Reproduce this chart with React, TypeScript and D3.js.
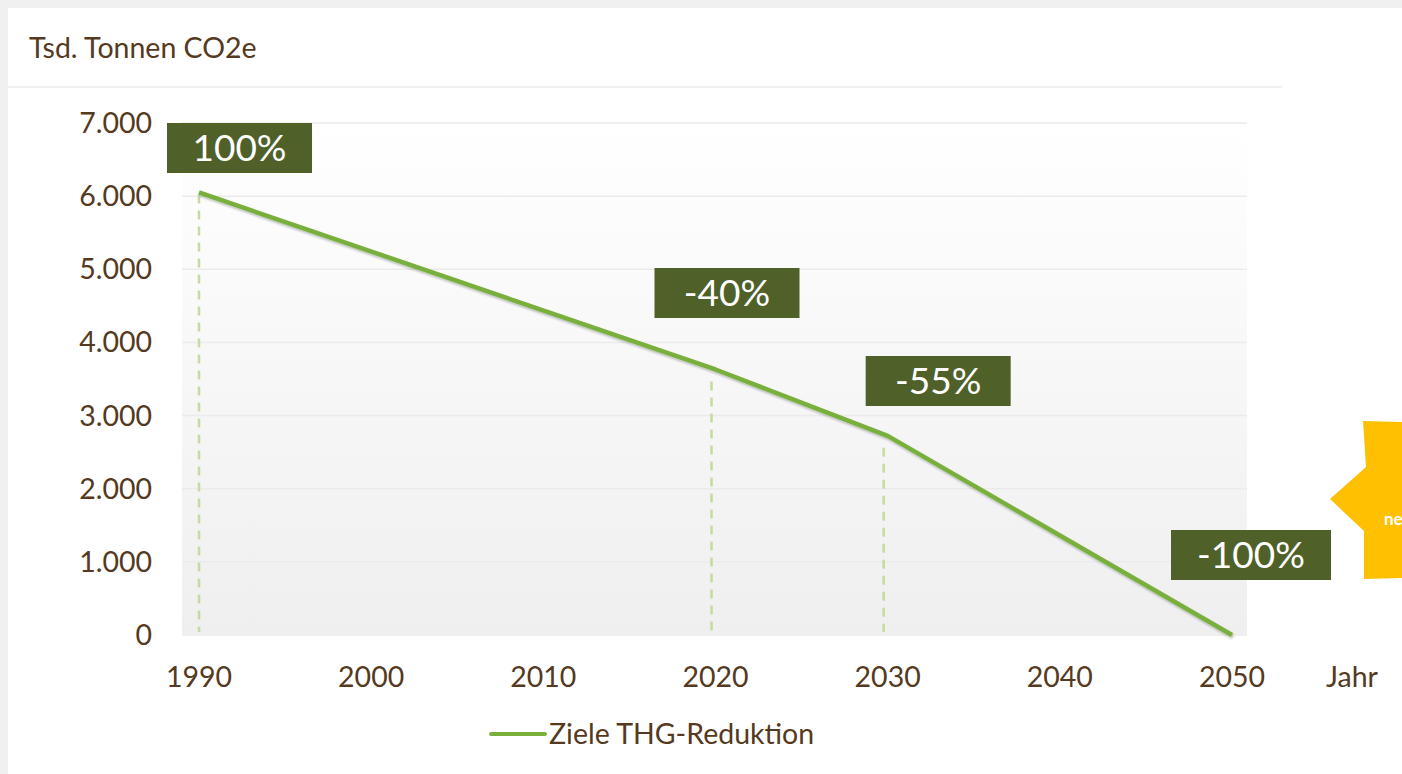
import * as d3 from 'd3';

const years = [1990, 2020, 2030, 2050];
const targetValues = [6050, 3630, 2723, 0];
const badgeLabels = ['100%', '-40%', '-55%', '-100%'];
const dropYears = [1990, 2020, 2030];
const yTicks = [0, 1000, 2000, 3000, 4000, 5000, 6000, 7000];
const xTicks = [1990, 2000, 2010, 2020, 2030, 2040, 2050];
const seriesName = 'Ziele THG-Reduktion';

const W = 1402;
const H = 774;
const brown = '#553920';
const olive = '#4f6129';
const green = '#79b03c';
const font = 'Lato, "Open Sans", sans-serif';

// badge boxes sit relative to the points (offsets from the picture)
const badgeBox = [
  { dx: -32, y: 123, w: 145 },
  { dx: -61, y: 268, w: 145 },
  { dx: -22, y: 356, w: 145 },
  { dx: -61, y: 530, w: 160 },
];

export default function App() {
  const x = d3.scaleLinear().domain([1990, 2050]).range([199, 1232]);
  const y = d3.scaleLinear().domain([0, 7000]).range([635, 123]);
  const line = d3.line<number>()
    .x((_, i) => x(years[i]))
    .y((d) => y(d));
  const fmt = (v: number) => d3.format(',')(v).replace(/,/g, '.');
  const plotLeft = 182;
  const plotRight = 1247;

  return (
    <svg width={W} height={H} style={{ position: 'absolute', left: 0, top: 0, fontFamily: font }}>
      <defs>
        <linearGradient id="plotBg" x1="0" y1="0" x2="0" y2="1">
          <stop offset="0%" stopColor="#ffffff" />
          <stop offset="100%" stopColor="#efefef" />
        </linearGradient>
        <filter id="shadow" x="-5%" y="-5%" width="110%" height="110%">
          <feDropShadow dx="1" dy="2" stdDeviation="1.2" floodColor="#000" floodOpacity="0.25" />
        </filter>
      </defs>
      <rect x={0} y={0} width={W} height={H} fill="#f0f0f0" />
      <rect x={8} y={8} width={W - 8} height={H - 8} fill="#ffffff" />
      <line x1={8} x2={1282} y1={87} y2={87} stroke="#f0f0f0" strokeWidth={2} />

      <text x={29} y={58} fontSize={28.5} fill={brown}>Tsd. Tonnen CO2e</text>

      <rect x={plotLeft} y={y(7000)} width={plotRight - plotLeft} height={y(0) - y(7000) + 1} fill="url(#plotBg)" />
      {yTicks.slice(1).map((t) => (
        <line key={t} x1={plotLeft} x2={plotRight} y1={y(t)} y2={y(t)} stroke="#ebebeb" strokeWidth={1.5} />
      ))}

      {yTicks.map((t) => (
        <text key={t} x={152} y={y(t) + 10} fontSize={28.5} fill={brown} textAnchor="end">{fmt(t)}</text>
      ))}
      {xTicks.map((t) => (
        <text key={t} x={x(t)} y={687} fontSize={28.5} fill={brown} textAnchor="middle">{t}</text>
      ))}
      <text x={1326} y={687} fontSize={28.5} fill={brown}>Jahr</text>

      {dropYears.map((yr) => {
        const i = years.indexOf(yr);
        const top = i === 0 ? y(targetValues[i]) + 2 : y(targetValues[i]) + 12;
        return (
          <line key={yr} x1={x(yr) - (i === 0 ? 0 : 4)} x2={x(yr) - (i === 0 ? 0 : 4)} y1={top} y2={y(0) - 3}
            stroke="#c4dc9f" strokeWidth={2.5} strokeDasharray="9,7" />
        );
      })}

      <path d={line(targetValues) || ''} fill="none" stroke={green} strokeWidth={4.5}
        strokeLinejoin="round" filter="url(#shadow)" />

      {badgeLabels.map((lab, i) => {
        const b = badgeBox[i];
        const bx = x(years[i]) + b.dx;
        return (
          <g key={lab}>
            <rect x={bx} y={b.y} width={b.w} height={50} fill={olive} />
            <text x={bx + b.w / 2} y={b.y + 38} fontSize={37} fill="#ffffff" textAnchor="middle">{lab}</text>
          </g>
        );
      })}

      <polygon points="1330,499 1366,467 1363,421 1402,422 1402,578 1364,579 1364,531" fill="#fec000" />
      <text x={1384} y={525} fontSize={17} fontWeight="bold" fill="#ffffff">ne</text>

      <line x1={491} x2={545} y1={734} y2={734} stroke={green} strokeWidth={4} strokeLinecap="round" />
      <text x={549} y={744} fontSize={28.5} fill={brown}>{seriesName}</text>
    </svg>
  );
}
